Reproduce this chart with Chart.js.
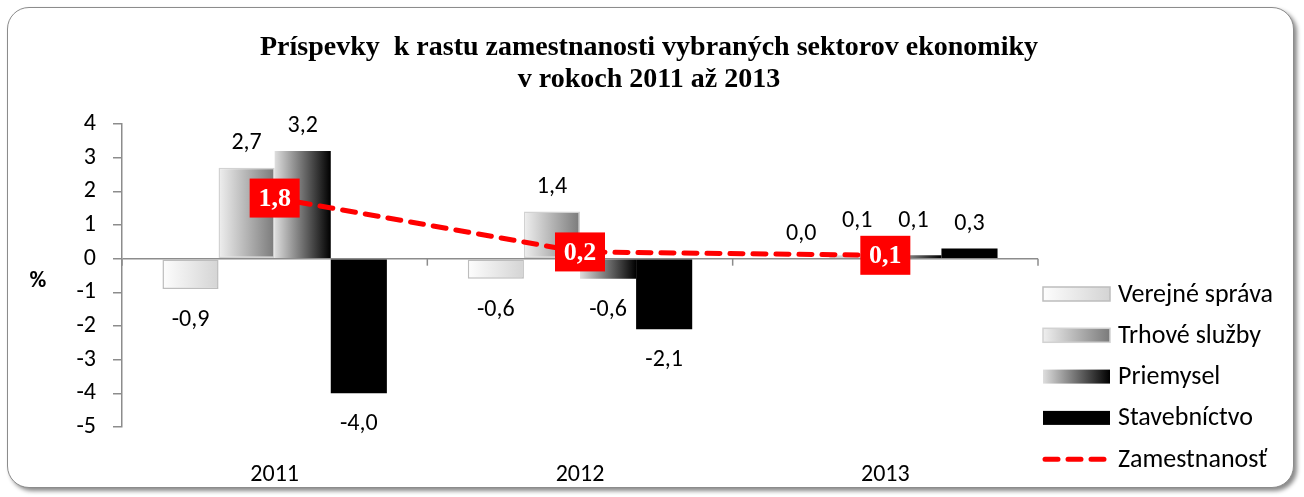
<!DOCTYPE html>
<html>
<head>
<meta charset="utf-8">
<script src="https://cdn.jsdelivr.net/npm/chart.js@4/dist/chart.umd.min.js"></script>
<style>
  body { margin: 0; background: #fff; }
  #frame { position: absolute; left: 7px; top: 7px; width: 1285px; height: 479px;
           border: 1.5px solid #8c8c8c; border-radius: 22px; box-shadow: 3px 3px 4px #8a8a8a; background: #fff; }
  #c { position: absolute; left: 0; top: 0; }
</style>
</head>
<body>
<div id="frame"></div>
<canvas id="c" width="1304" height="497"></canvas>
<script>
var years = ['2011', '2012', '2013'];
var verejnaSprava = [-0.9, -0.6, 0.0];
var trhoveSluzby = [2.7, 1.4, 0.1];
var priemysel = [3.2, -0.6, 0.1];
var stavebnictvo = [-4.0, -2.1, 0.3];
var zamestnanost = [1.8, 0.2, 0.1];
var yMin = -5, yMax = 4;
var titleLines = ['Príspevky  k rastu zamestnanosti vybraných sektorov ekonomiky', 'v rokoch 2011 až 2013'];

var FONT = 'Carlito, Calibri, Lato, sans-serif';
var SERIF = '"Liberation Serif", "Times New Roman", serif';
var CAT_PCT = 0.735;

// gradient stops for each bar series (left -> right)
var barStyles = [
  { stops: ['#fdfdfd', '#d4d4d4'], border: '#bdbdbd' },
  { stops: ['#efefef', '#7a7a7a'], border: '#d2d2d2' },
  { stops: ['#dedede', '#000000'], border: null },
  { stops: ['#000000', '#000000'], border: null }
];

function fmt(v) { return v.toFixed(1).replace('.', ','); }

function barFill(di) {
  return function (c) {
    var chart = c.chart, st = barStyles[di];
    if (!chart.chartArea) return st.stops[1];
    var x = chart.scales.x;
    var catW = x.width / years.length;
    var barW = catW * CAT_PCT / 4;
    var left = x.getPixelForValue(c.dataIndex) - catW * CAT_PCT / 2 + di * barW;
    var g = chart.ctx.createLinearGradient(left, 0, left + barW, 0);
    g.addColorStop(0, st.stops[0]);
    g.addColorStop(1, st.stops[1]);
    return g;
  };
}

function barSet(label, data, di) {
  return {
    type: 'bar', label: label, data: data, order: 1,
    backgroundColor: barFill(di),
    borderColor: barStyles[di].border || 'transparent',
    borderWidth: barStyles[di].border ? 1.5 : 0,
    borderSkipped: false,
    barPercentage: 1, categoryPercentage: CAT_PCT
  };
}

var decor = {
  id: 'decor',
  afterDatasetsDraw: function (chart) {
    var ctx = chart.ctx, y = chart.scales.y, area = chart.chartArea;
    var y0 = y.getPixelForValue(0);
    ctx.save();
    // category tick marks on the zero line
    ctx.strokeStyle = '#8c8c8c'; ctx.lineWidth = 1.5;
    for (var i = 0; i <= years.length; i++) {
      var px = area.left + i * (area.right - area.left) / years.length;
      ctx.beginPath(); ctx.moveTo(px, y0); ctx.lineTo(px, y0 + 7); ctx.stroke();
    }
    // boxes of the line labels (bar labels keep clear of them)
    var boxes = [];
    chart.data.datasets.forEach(function (ds, di) {
      if (ds.type !== 'line') return;
      chart.getDatasetMeta(di).data.forEach(function (p, k) {
        boxes.push({ x: p.x - 25, y: p.y - 19.5, w: 50, h: 39, text: fmt(ds.data[k]), cx: p.x, cy: p.y });
      });
    });
    // bar value labels
    ctx.font = '24px ' + FONT; ctx.fillStyle = '#000';
    ctx.textAlign = 'center'; ctx.textBaseline = 'middle';
    chart.data.datasets.forEach(function (ds, di) {
      if (ds.type !== 'bar') return;
      chart.getDatasetMeta(di).data.forEach(function (bar, k) {
        var v = ds.data[k], t = fmt(v);
        var ty = v >= 0 ? bar.y - 25 : bar.y + 31;
        var hw = ctx.measureText(t).width / 2;
        boxes.forEach(function (b) {
          if (bar.x + hw > b.x && bar.x - hw < b.x + b.w && ty + 12 > b.y && ty - 12 < b.y + b.h) {
            ty = b.y - 15;
          }
        });
        ctx.fillText(t, bar.x, ty);
      });
    });
    // line value boxes
    boxes.forEach(function (b) {
      ctx.fillStyle = '#ff0000';
      ctx.fillRect(b.x, b.y, b.w, b.h);
      ctx.fillStyle = '#fff';
      ctx.font = 'bold 26px ' + SERIF;
      ctx.fillText(b.text, b.cx, b.cy + 1);
    });
    ctx.restore();
  },
  afterDraw: function (chart) {
    var ctx = chart.ctx, area = chart.chartArea;
    ctx.save();
    ctx.fillStyle = '#000';
    ctx.textAlign = 'center'; ctx.textBaseline = 'middle';
    // title
    ctx.font = 'bold 28px ' + SERIF;
    ctx.fillText(titleLines[0], 649, 48);
    ctx.fillText(titleLines[1], 649, 80);
    // y unit
    ctx.font = 'bold 23px ' + FONT;
    ctx.fillText('%', 38, 281);
    // legend
    var lx = area.right + 5, ly = 294, step = 41.3;
    ctx.textAlign = 'left'; ctx.font = '26px ' + FONT;
    chart.data.datasets.forEach(function (ds, di) {
      var cy = ly + di * step;
      if (ds.type === 'bar') {
        var st = barStyles[di];
        var g = ctx.createLinearGradient(lx, 0, lx + 67, 0);
        g.addColorStop(0, st.stops[0]); g.addColorStop(1, st.stops[1]);
        ctx.fillStyle = g;
        ctx.fillRect(lx, cy - 7, 67, 14);
        if (st.border) { ctx.strokeStyle = st.border; ctx.lineWidth = 1.5; ctx.strokeRect(lx, cy - 7, 67, 14); }
      } else {
        ctx.strokeStyle = ds.borderColor; ctx.lineWidth = 5; ctx.lineCap = 'round';
        ctx.setLineDash([13, 10]);
        ctx.beginPath(); ctx.moveTo(lx + 2, cy); ctx.lineTo(lx + 62, cy); ctx.stroke();
        ctx.setLineDash([]);
      }
      ctx.fillStyle = '#000';
      ctx.fillText(ds.label, lx + 75, cy + 1);
    });
    ctx.restore();
  }
};

new Chart(document.getElementById('c'), {
  data: {
    labels: years,
    datasets: [
      barSet('Verejné správa', verejnaSprava, 0),
      barSet('Trhové služby', trhoveSluzby, 1),
      barSet('Priemysel', priemysel, 2),
      barSet('Stavebníctvo', stavebnictvo, 3),
      {
        type: 'line', label: 'Zamestnanosť', data: zamestnanost, order: 0,
        borderColor: '#ff0000', borderWidth: 5, borderDash: [13, 10], borderCapStyle: 'round',
        pointRadius: 0, tension: 0, fill: false
      }
    ]
  },
  options: {
    responsive: false,
    animation: false,
    layout: { padding: { left: 0, right: 266, top: 124, bottom: 0 } },
    plugins: {
      legend: { display: false },
      tooltip: { enabled: false },
      title: { display: false }
    },
    scales: {
      x: {
        grid: { display: false },
        border: { display: false },
        ticks: { color: '#000', font: { family: FONT, size: 24 }, padding: 26 },
        afterFit: function (s) { s.height = 70; }
      },
      y: {
        min: yMin, max: yMax,
        ticks: { stepSize: 1, color: '#000', font: { family: FONT, size: 24 }, padding: 17 },
        grid: {
          color: function (c) { return c.tick && c.tick.value === 0 ? '#8c8c8c' : 'transparent'; },
          lineWidth: 1.5, tickColor: '#8c8c8c', tickLength: 9
        },
        border: { display: true, color: '#8c8c8c', width: 1.5 },
        afterFit: function (s) { s.width = 122; }
      }
    }
  },
  plugins: [decor]
});
</script>
</body>
</html>
